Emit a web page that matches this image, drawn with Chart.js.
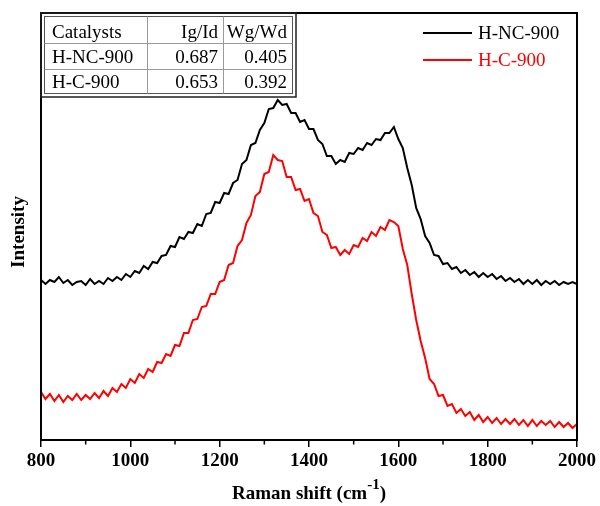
<!DOCTYPE html>
<html>
<head>
<meta charset="utf-8">
<title>Raman spectra</title>
<script src="https://cdn.jsdelivr.net/npm/chart.js@4.4.1/dist/chart.umd.min.js"></script>
<style>
    html, body { margin: 0; padding: 0; background: #fff; }
    #wrap { width: 600px; height: 506px; }
</style>
</head>
<body>
<div id="wrap"><canvas id="ramanChart" width="600" height="506"></canvas></div>
<script>
// x values (Raman shift, cm-1)
const ramanShift = [
    800, 810, 820, 830, 840, 850, 860, 870, 880, 890, 900, 910, 920, 930, 940, 950, 960, 970, 980, 990,
    1000, 1010, 1020, 1030, 1040, 1050, 1060, 1070, 1080, 1090, 1100, 1110, 1120, 1130, 1140, 1150, 1160, 1170, 1180, 1190,
    1200, 1210, 1220, 1230, 1240, 1250, 1260, 1270, 1280, 1290, 1300, 1310, 1320, 1330, 1340, 1350, 1360, 1370, 1380, 1390,
    1400, 1410, 1420, 1430, 1440, 1450, 1460, 1470, 1480, 1490, 1500, 1510, 1520, 1530, 1540, 1550, 1560, 1570, 1580, 1590,
    1600, 1610, 1620, 1630, 1640, 1650, 1660, 1670, 1680, 1690, 1700, 1710, 1720, 1730, 1740, 1750, 1760, 1770, 1780, 1790,
    1800, 1810, 1820, 1830, 1840, 1850, 1860, 1870, 1880, 1890, 1900, 1910, 1920, 1930, 1940, 1950, 1960, 1970, 1980, 1990,
    2000
];

// intensity (a.u., offset spectra)
const hnc900 = [
    160, 156, 160, 158, 163, 157, 160, 155, 158, 159, 155, 161, 156, 159, 156, 162, 159, 163, 160, 166,
    163, 169, 167, 174, 171, 178, 177, 184, 185, 194, 193, 203, 201, 208, 207, 216, 214, 226, 227, 238,
    237, 247, 246, 257, 260, 276, 280, 295, 297, 310, 317, 331, 332, 340, 335, 336, 327, 327, 318, 320,
    311, 311, 300, 296, 284, 284, 276, 280, 278, 287, 286, 292, 290, 297, 295, 301, 300, 307, 307, 313,
    301, 292, 272, 255, 232, 221, 204, 197, 185, 184, 176, 177, 171, 173, 167, 170, 165, 168, 163, 167,
    163, 166, 161, 164, 159, 162, 158, 161, 156, 160, 156, 160, 155, 159, 156, 159, 155, 158, 156, 158,
    156
];
const hc900 = [
    48, 41, 46, 39, 45, 38, 44, 40, 46, 40, 45, 41, 47, 42, 49, 44, 52, 48, 56, 52,
    61, 57, 66, 62, 71, 68, 78, 77, 86, 84, 95, 94, 107, 107, 120, 121, 133, 134, 146, 146,
    158, 160, 175, 177, 194, 200, 217, 225, 244, 248, 266, 268, 285, 280, 279, 263, 263, 250, 251, 239,
    241, 227, 224, 208, 205, 192, 193, 185, 190, 186, 195, 193, 202, 199, 208, 204, 213, 210, 220, 218,
    214, 191, 175, 146, 120, 99, 82, 61, 56, 44, 45, 34, 36, 27, 31, 24, 28, 20, 25, 18,
    23, 17, 22, 16, 21, 16, 21, 15, 20, 14, 20, 14, 19, 15, 19, 13, 18, 13, 17, 12,
    16
];

const seriesLabels = ['H-NC-900', 'H-C-900'];
const seriesColors = ['#000000', '#ff0000'];

// inset table
const tableHeader = ['Catalysts', 'Ig/Id', 'Wg/Wd'];
const tableCatalysts = ['H-NC-900', 'H-C-900'];
const tableIgId = ['0.687', '0.653'];
const tableWgWd = ['0.405', '0.392'];

const xMin = 800, xMax = 2000, xStep = 200, xMinorStep = 100;
const serif = "'Liberation Serif', 'Times New Roman', serif";

// frame, minor ticks, axis titles, table and legend
const decorPlugin = {
    id: 'decor',
    afterDraw(chart) {
        const { ctx, chartArea: a, scales: { x } } = chart;
        ctx.save();

        // 1. box round the plot
        ctx.strokeStyle = '#000';
        ctx.lineWidth = 2;
        ctx.strokeRect(a.left, a.top, a.right - a.left, a.bottom - a.top);

        // 2. minor ticks
        ctx.lineWidth = 1.5;
        for (let v = xMin + xMinorStep; v < xMax; v += xStep) {
            const px = x.getPixelForValue(v);
            ctx.beginPath();
            ctx.moveTo(px, a.bottom);
            ctx.lineTo(px, a.bottom + 4.5);
            ctx.stroke();
        }

        // 3. x title with superscript
        ctx.fillStyle = '#000';
        ctx.textBaseline = 'alphabetic';
        const mainFont = `bold 19px ${serif}`;
        const supFont = `bold 15px ${serif}`;
        ctx.font = mainFont;
        const p1 = 'Raman shift (cm', p3 = ')';
        const w1 = ctx.measureText(p1).width, w3 = ctx.measureText(p3).width;
        ctx.font = supFont;
        const p2 = '-1';
        const w2 = ctx.measureText(p2).width;
        let tx = (a.left + a.right) / 2 - (w1 + w2 + w3) / 2;
        const ty = 499;
        ctx.textAlign = 'left';
        ctx.font = mainFont;
        ctx.fillText(p1, tx, ty);
        ctx.font = supFont;
        ctx.fillText(p2, tx + w1, ty - 10);
        ctx.font = mainFont;
        ctx.fillText(p3, tx + w1 + w2, ty);

        // 4. y title
        ctx.save();
        ctx.translate(19, 232);
        ctx.rotate(-Math.PI / 2);
        ctx.textAlign = 'center';
        ctx.textBaseline = 'middle';
        ctx.font = `bold 19px ${serif}`;
        ctx.fillText('Intensity', 0, 0);
        ctx.restore();

        // 5. inset table (double border)
        const tl = a.left, tt = a.top, tw = 255, th = 84;
        ctx.strokeStyle = '#222';
        ctx.lineWidth = 1.5;
        ctx.strokeRect(tl, tt, tw, th);
        ctx.strokeStyle = '#555';
        ctx.lineWidth = 1;
        ctx.strokeRect(tl + 3.5, tt + 3.5, tw - 7, th - 7);
        ctx.strokeStyle = '#999';
        [30, 56].forEach(dy => {
            ctx.beginPath();
            ctx.moveTo(tl + 3.5, tt + dy + 0.5);
            ctx.lineTo(tl + tw - 3.5, tt + dy + 0.5);
            ctx.stroke();
        });
        [106, 182].forEach(dx => {
            ctx.beginPath();
            ctx.moveTo(tl + dx + 0.5, tt + 3.5);
            ctx.lineTo(tl + dx + 0.5, tt + th - 3.5);
            ctx.stroke();
        });
        ctx.font = `19px ${serif}`;
        ctx.fillStyle = '#000';
        const rows = [tableHeader].concat(tableCatalysts.map((c, i) => [c, tableIgId[i], tableWgWd[i]]));
        rows.forEach((r, i) => {
            const by = tt + 25 + i * 25;
            ctx.textAlign = 'left';
            ctx.fillText(r[0], tl + 11, by);
            ctx.textAlign = 'right';
            ctx.fillText(r[1], tl + 177, by);
            ctx.fillText(r[2], tl + 246, by);
        });

        // 6. legend
        ctx.font = `19px ${serif}`;
        ctx.textAlign = 'left';
        ctx.textBaseline = 'middle';
        chart.data.datasets.forEach((ds, i) => {
            const ly = 33 + i * 27;
            ctx.strokeStyle = ds.borderColor;
            ctx.lineWidth = 2;
            ctx.beginPath();
            ctx.moveTo(423, ly);
            ctx.lineTo(472, ly);
            ctx.stroke();
            ctx.fillStyle = ds.borderColor;
            ctx.fillText(ds.label, 478, ly + 1);
        });

        ctx.restore();
    }
};

const seriesData = [hnc900, hc900];

new Chart(document.getElementById('ramanChart').getContext('2d'), {
    type: 'line',
    data: {
        datasets: seriesData.map((vals, i) => ({
            label: seriesLabels[i],
            data: ramanShift.map((xv, j) => ({ x: xv, y: vals[j] })),
            borderColor: seriesColors[i],
            borderWidth: 2,
            pointRadius: 0,
            tension: 0,
            fill: false
        }))
    },
    options: {
        responsive: false,
        animation: false,
        events: [],
        layout: { padding: { left: 41, top: 13, right: 23, bottom: 0 } },
        plugins: {
            legend: { display: false },
            tooltip: { enabled: false }
        },
        scales: {
            x: {
                type: 'linear',
                min: xMin,
                max: xMax,
                afterFit: (scale) => { scale.height = 66; },
                ticks: {
                    stepSize: xStep,
                    maxRotation: 0,
                    padding: 3,
                    color: '#000',
                    font: { family: serif, size: 19, weight: 'bold' },
                    callback: (v) => String(v)
                },
                grid: { drawOnChartArea: false, tickLength: 7, color: '#000', lineWidth: 1.5 },
                border: { color: '#000', width: 2 }
            },
            y: {
                display: false,
                min: 0,
                max: 427
            }
        }
    },
    plugins: [decorPlugin]
});
</script>
</body>
</html>
